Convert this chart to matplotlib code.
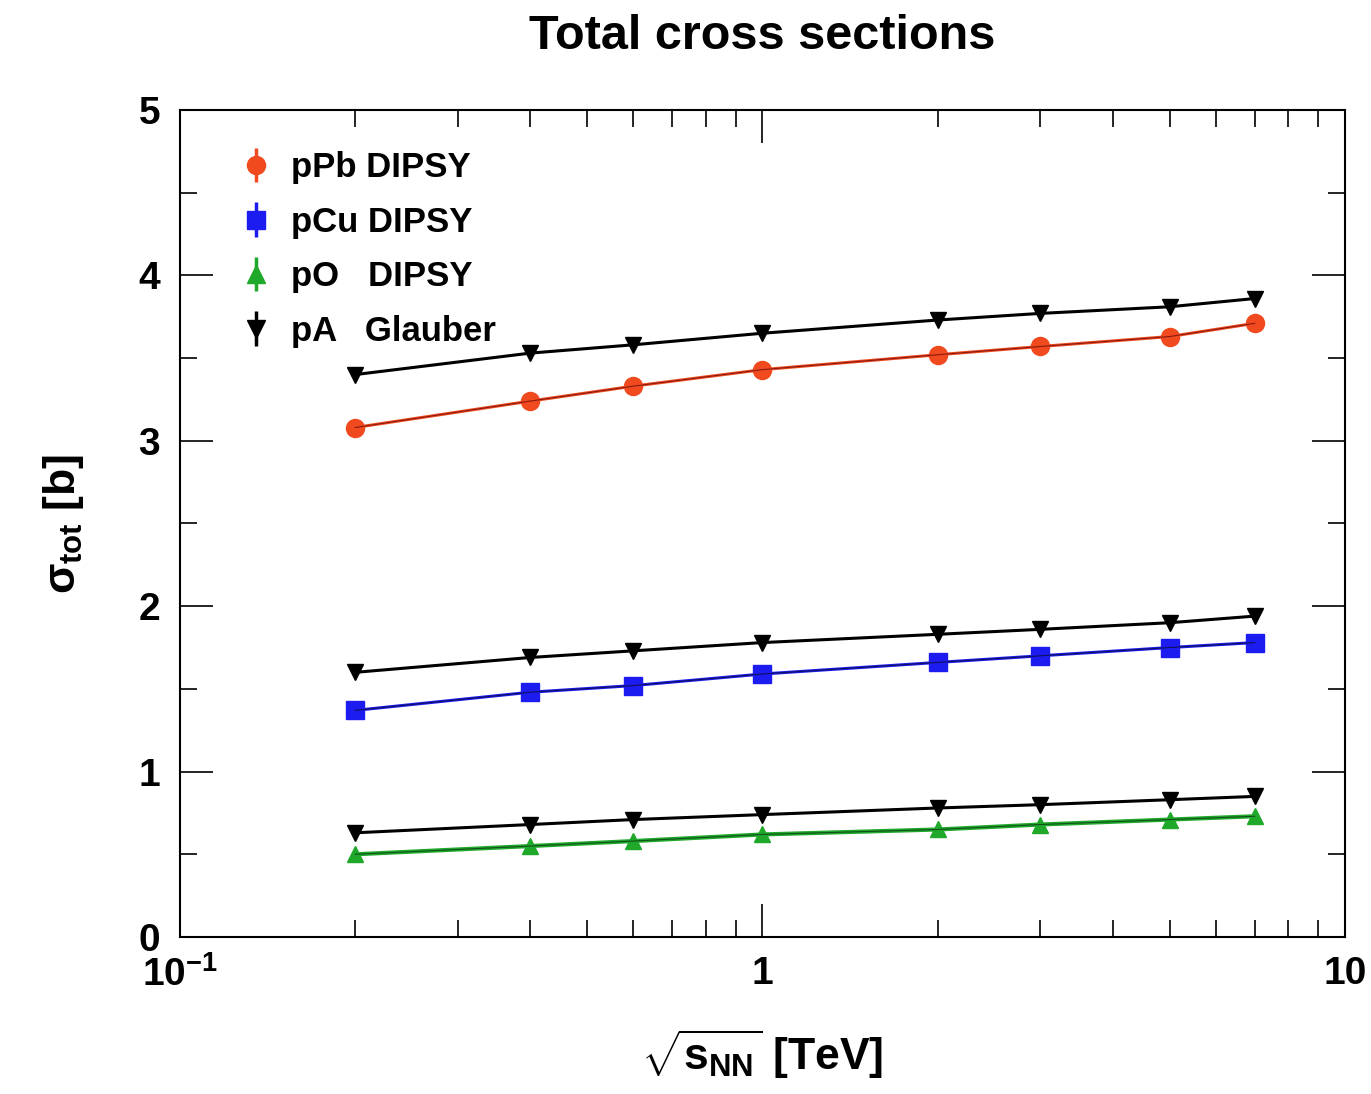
import matplotlib
matplotlib.use("Agg")
import matplotlib.pyplot as plt
from matplotlib.ticker import FixedLocator, FixedFormatter, MultipleLocator, LogLocator, NullFormatter

plt.rcParams['font.family'] = 'Liberation Sans'
plt.rcParams['font.weight'] = 'bold'
plt.rcParams['mathtext.fontset'] = 'custom'
plt.rcParams['mathtext.rm'] = 'Liberation Sans:bold'
plt.rcParams['mathtext.it'] = 'Liberation Sans:bold'
plt.rcParams['mathtext.bf'] = 'Liberation Sans:bold'

# sqrt(s_NN) in TeV
energies = [0.2, 0.4, 0.6, 1.0, 2.0, 3.0, 5.0, 7.0]

# total cross sections in barn
ppb_dipsy = [3.08, 3.24, 3.33, 3.43, 3.52, 3.57, 3.63, 3.71]
ppb_glauber = [3.40, 3.53, 3.58, 3.65, 3.73, 3.77, 3.81, 3.86]
pcu_dipsy = [1.37, 1.48, 1.52, 1.59, 1.66, 1.70, 1.75, 1.78]
pcu_glauber = [1.60, 1.69, 1.73, 1.78, 1.83, 1.86, 1.90, 1.94]
po_dipsy = [0.50, 0.55, 0.58, 0.62, 0.65, 0.68, 0.71, 0.73]
po_glauber = [0.63, 0.68, 0.71, 0.74, 0.78, 0.80, 0.83, 0.85]

legend_labels = ["pPb DIPSY", "pCu DIPSY", "pO   DIPSY", "pA   Glauber"]

c_pb = "#f04a1e"
c_cu = "#1c1cf0"
c_o = "#1fa82a"

fig = plt.figure(figsize=(13.71, 10.94), dpi=100)
ax = fig.add_axes([0.131, 0.1435, 0.85, 0.756])

for vals in (ppb_glauber, pcu_glauber, po_glauber):
    ax.plot(energies, vals, color="black", lw=2.2, marker="v", ms=12, zorder=3)
ax.plot(energies, ppb_dipsy, color=c_pb, lw=2.2, marker="o", ms=13,
        markeredgecolor=c_pb, zorder=3)
ax.plot(energies, ppb_dipsy, color="#8a1a10", lw=0.8, zorder=3)
ax.plot(energies, pcu_dipsy, color=c_cu, lw=2.2, marker="s", ms=13, zorder=3)
ax.plot(energies, pcu_dipsy, color="#10105a", lw=0.8, zorder=3)
ax.plot(energies, po_dipsy, color=c_o, lw=3.0, marker="^", ms=12, zorder=3)
ax.plot(energies, po_dipsy, color="#10501a", lw=0.8, zorder=3)

ax.set_xscale("log")
ax.set_xlim(0.1, 10)
ax.set_ylim(0, 5)

# legend proxies: marker with vertical bar
handles = []
for col, mk in ((c_pb, "o"), (c_cu, "s"), (c_o, "^"), ("black", "v")):
    h = ax.errorbar([], [], yerr=[], fmt=mk, color=col, ms=13, elinewidth=2.5)
    handles.append(h)
ax.legend(handles, legend_labels, loc="upper left", bbox_to_anchor=(0.042, 0.967),
          frameon=False, fontsize=25, handlelength=0.8, handletextpad=0.6,
          labelspacing=0.62, borderaxespad=0)

ax.xaxis.set_major_locator(FixedLocator([0.1, 1, 10]))
ax.xaxis.set_major_formatter(FixedFormatter([r"$10^{-1}$", "1", "10"]))
ax.xaxis.set_minor_locator(LogLocator(base=10, subs=range(2, 10)))
ax.xaxis.set_minor_formatter(NullFormatter())
ax.yaxis.set_major_locator(MultipleLocator(1))
ax.yaxis.set_minor_locator(MultipleLocator(0.5))

ax.tick_params(which="both", direction="in", top=True, right=True, width=1.2,
               labelsize=28, pad=14)
ax.tick_params(which="major", length=24)
ax.tick_params(which="minor", length=12)
for sp in ax.spines.values():
    sp.set_linewidth(1.5)

ax.set_xlabel(r"$\sqrt{s_{NN}}$ [TeV]", fontsize=32, labelpad=24, fontweight="bold")
ax.set_ylabel(r"$\sigma_{tot}$ [b]", fontsize=32, labelpad=38, fontweight="bold")
ax.set_title("Total cross sections", fontsize=35, fontweight="bold", pad=44)

fig.savefig("out.png", dpi=100)
